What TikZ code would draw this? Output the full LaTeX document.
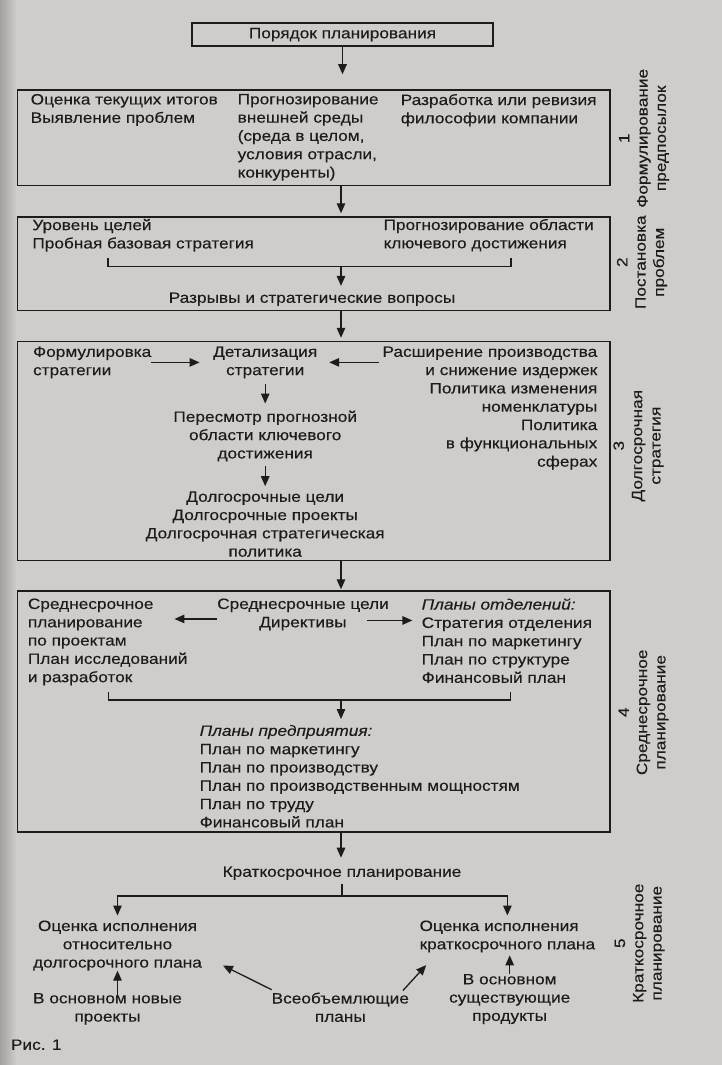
\documentclass[tikz,border=0pt]{standalone}
\usepackage{fontspec}
\setmainfont{Liberation Sans}[FakeStretch=1.15, FakeBold=0.25]
\usetikzlibrary{arrows.meta, positioning}
\definecolor{paper}{RGB}{206,205,201}
\definecolor{ink}{RGB}{28,28,28}
\tikzset{
    base/.style = {inner sep=0pt, outer sep=0pt, text=ink, font=\fontsize{15}{18.3}\selectfont},
    % Components
    head/.style  = {base, draw=ink, line width=1.5pt, rectangle, minimum width=301pt, minimum height=23pt},
    stage/.style = {draw=ink, line width=1.5pt, rectangle, minimum width=592.5pt},
    txt/.style   = {base, align=left},
    ctxt/.style  = {base, align=center},
    rtxt/.style  = {base, align=right},
    side/.style  = {base, align=center, rotate=90},
    % Edges
    arrow/.style   = {draw=ink, line width=1.3pt, -{Triangle[length=10pt, width=8.5pt]}},
    bracket/.style = {draw=ink, line width=1.2pt}
}

\begin{document}
\begin{tikzpicture}[x=1pt, y=-1pt, node distance=20pt]
    \fill[paper] (0,0) rectangle (722,1065);
    \shade[left color=black!22!paper, right color=paper] (0,0) rectangle (16,1065);
    \useasboundingbox (0,0) rectangle (722,1065);

    \node (top) [head] at (342.5,34.7) {Порядок планирования};

    % stage frames
    \node (b1) [stage, minimum height=95.5pt] at (313.75,137.75) {};
    \node (b2) [stage, minimum height=93.5pt] at (313.75,263.75) {};
    \node (b3) [stage, minimum height=219pt] at (313.75,451) {};
    \node (b4) [stage, minimum height=241pt] at (313.75,711.5) {};

    % stage labels
    \node (s1) [side] at (644,138.3) {1\\Формулирование\\предпосылок};
    \node (s2) [side] at (642,262.2) {2\\Постановка\\проблем};
    \node (s3) [side] at (638.5,445.7) {3\\Долгосрочная\\стратегия};
    \node (s4) [side] at (643.5,712.3) {4\\Среднесрочное\\планирование};
    \node (s5) [side] at (639.7,943.2) {5\\Краткосрочное\\планирование};

    % 1
    \node (est) [txt, anchor=north west] at (30.7,94) {Оценка текущих итогов\\Выявление проблем};
    \node (env) [txt, anchor=north west] at (237.7,94) {Прогнозирование\\внешней среды\\(среда в целом,\\условия отрасли,\\конкуренты)};
    \node (phil) [txt, anchor=north west] at (400.8,94) {Разработка или ревизия\\философии компании};

    % 2
    \node (lvl) [txt, anchor=north west] at (32.4,219) {Уровень целей\\Пробная базовая стратегия};
    \node (kfa) [txt, anchor=north west] at (383.6,219) {Прогнозирование области\\ключевого достижения};
    \node (gaps) [txt, anchor=north] at (312,292.5) {Разрывы и стратегические вопросы};
    \coordinate (k2l) at (108,258);
    \coordinate (k2r) at (511,258);
    \coordinate (k2m) at (341,266.5);

    % 3
    \node (form) [txt, anchor=north west] at (33.1,346.5) {Формулировка\\стратегии};
    \node (detal) [ctxt, anchor=north] at (265.2,346.5) {Детализация\\стратегии};
    \node (ext) [rtxt, anchor=north east] at (597.3,346.5) {Расширение производства\\и снижение издержек\\Политика изменения\\номенклатуры\\Политика\\в функциональных\\сферах};
    \node (review) [ctxt, below=32.5pt of detal] {Пересмотр прогнозной\\области ключевого\\достижения};
    \node (ltgoals) [ctxt, below=30pt of review] {Долгосрочные цели\\Долгосрочные проекты\\Долгосрочная стратегическая\\политика};

    % 4
    \node (proj) [txt, anchor=north west] at (27.9,598.5) {Среднесрочное\\планирование\\по проектам\\План исследований\\и разработок};
    \node (mid) [ctxt, anchor=north] at (303,598.5) {Среднесрочные цели\\Директивы};
    \node (plansD) [txt, anchor=north west] at (421.7,598.5) {\textit{Планы отделений:}\\Стратегия отделения\\План по маркетингу\\План по структуре\\Финансовый план};
    \coordinate (k4l) at (108.5,691.5);
    \coordinate (k4r) at (510.5,691.5);
    \coordinate (k4m) at (341,700);
    \node (plansE) [txt, anchor=north west] at (199.7,725) {\textit{Планы предприятия:}\\План по маркетингу\\План по производству\\План по производственным мощностям\\План по труду\\Финансовый план};

    % 5
    \node (short) [ctxt, anchor=north] at (342,866.5) {Краткосрочное планирование};
    \coordinate (split) at (342,896);
    \node (evalL) [ctxt, anchor=north] at (117.5,920.5) {Оценка исполнения\\относительно\\долгосрочного плана};
    \node (evalR) [txt, anchor=north west] at (419.6,920.5) {Оценка исполнения\\краткосрочного плана};
    \node (newp) [ctxt, anchor=north] at (107.5,993) {В основном новые\\проекты};
    \node (exist) [ctxt, anchor=north] at (509.7,974) {В основном\\существующие\\продукты};
    \node (global) [ctxt, anchor=north] at (340.3,992.5) {Всеобъемлющие\\планы};

    \node (fig) [txt, anchor=north west] at (11,1039.5) {Рис. 1};

    % main line
    \draw [arrow, shorten >=15pt] (top.south) -- (top.south |- b1.north);
    \draw [arrow, shorten >=3pt] (b1.south -| k2m) -- (b2.north -| k2m);
    \draw [arrow, shorten >=3pt] (b2.south -| k2m) -- (b3.north -| k2m);
    \draw [arrow, shorten >=1pt] (b3.south -| k2m) -- (b4.north -| k2m);
    \draw [arrow, shorten >=8.8pt] (b4.south -| k2m) -- (k2m |- short.north);

    % inside 2
    \draw [bracket] (k2l) |- (k2m) -| (k2r);
    \draw [arrow, shorten >=6.6pt] (k2m) -- (k2m |- gaps.north);

    % inside 3
    \draw [arrow, shorten >=13.6pt] (form.east) -- (form.east -| detal.west);
    \draw [arrow, shorten <=4pt, shorten >=12pt] (ext.west |- detal.east) -- (detal.east);
    \draw [arrow, shorten <=5.8pt, shorten >=7.2pt] (detal) -- (review);
    \draw [arrow, shorten <=4.3pt, shorten >=5.3pt] (review) -- (ltgoals);

    % inside 4
    \draw [arrow, shorten >=-13pt] ([shift={(0,4.5)}]mid.west) -- ([yshift=-4.5pt]mid.west -| proj.east);
    \draw [arrow, shorten >=9.3pt] ([shift={(-22,6)}]mid.east) -- ([yshift=-6pt]mid.east -| plansD.west);
    \draw [bracket] (k4l) |- (k4m) -| (k4r);
    \draw [arrow, shorten >=6pt] (k4m) -- (k4m |- plansE.north);

    % short term
    \draw [bracket, shorten <=3.6pt] (short.south) -- (split);
    \draw [arrow, shorten >=5pt] (split) -| (evalL.north);
    \draw [arrow, shorten >=5pt] (split) -| (evalR.north);
    \draw [arrow, shorten <=-3pt] (newp.north -| evalL.south) -- (evalL.south);
    \draw [arrow, shorten >=3pt] (exist.north) -- (exist.north |- evalR.south);
    \draw [arrow] ([yshift=2.8pt]global.north west) -- ([shift={(21,-5.2)}]evalL.south east);
    \draw [arrow] ([shift={(-6,-2)}]global.north east) -- ([shift={(6.6,12.7)}]evalR.south west);
\end{tikzpicture}
\end{document}
